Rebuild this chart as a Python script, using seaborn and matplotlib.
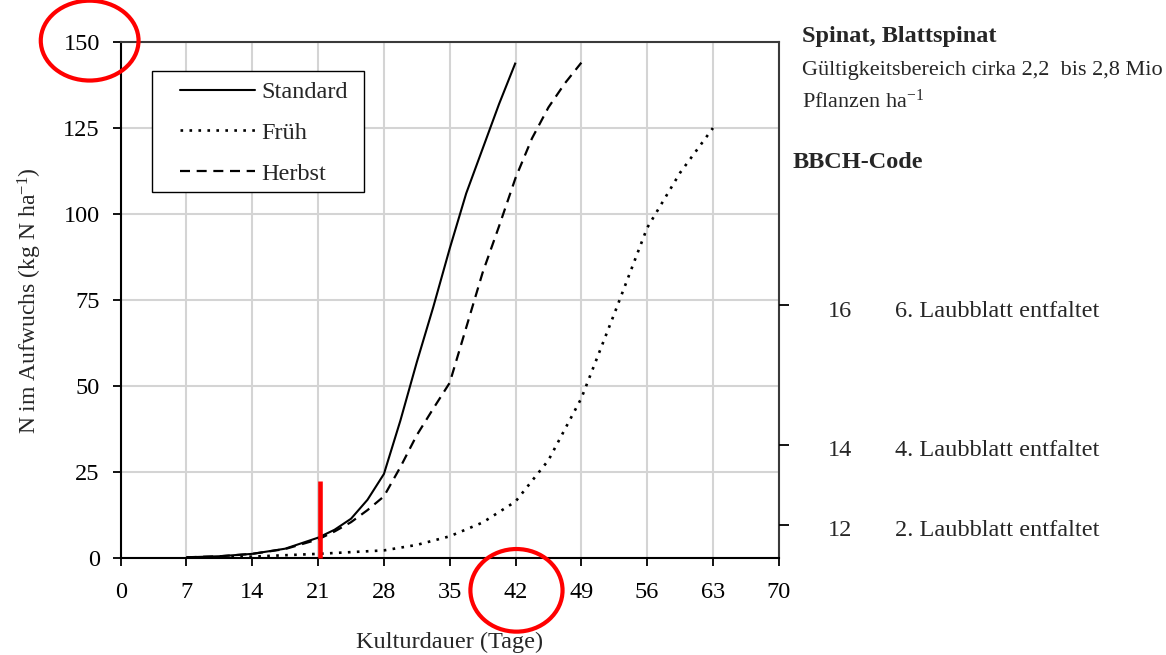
import matplotlib
matplotlib.use("Agg")
import matplotlib.pyplot as plt
import matplotlib.transforms as mtransforms
from matplotlib.lines import Line2D
from matplotlib.patches import Ellipse, Rectangle
import numpy as np
import pandas as pd
import seaborn as sns

# --- N uptake of spinach (kg N/ha) over cultivation time (days) ---
days_standard = [7, 10.5, 14, 17.5, 21, 22.75, 24.5, 26.25, 28, 29.75, 31.5,
                 33.25, 35, 36.75, 38.5, 40.25, 42]
n_standard = [0.3, 0.6, 1.3, 2.8, 6.0, 8.3, 11.5, 17.0, 24.5, 40.0, 57.0,
              73.0, 90.0, 106.0, 119.0, 132.0, 144.0]

days_frueh = [7, 10.5, 14, 17.5, 21, 24.5, 28, 31.5, 35, 38.5, 42, 45.5,
              49, 52.5, 56, 59.5, 63]
n_frueh = [0.2, 0.3, 0.5, 0.9, 1.3, 1.8, 2.3, 3.9, 6.4, 10.4, 16.5, 28.5,
           46.5, 71.0, 96.0, 112.0, 125.0]

days_herbst = [7, 10.5, 14, 17.5, 21, 22.75, 24.5, 26.25, 28, 29.75, 31.5,
               33.25, 35, 36.75, 38.5, 40.25, 42, 43.75, 45.5, 47.25, 49]
n_herbst = [0.3, 0.6, 1.3, 2.7, 5.5, 7.8, 10.5, 14.0, 18.0, 26.5, 35.8,
            43.5, 51.0, 67.0, 83.0, 96.5, 110.5, 122.0, 131.0, 138.0, 144.0]

series_names = ["Standard", "Früh", "Herbst"]

x_ticks = [0, 7, 14, 21, 28, 35, 42, 49, 56, 63, 70]
y_ticks = [0, 25, 50, 75, 100, 125, 150]

# BBCH growth stages marked on the right-hand axis
bbch_level = [73.5, 33.0, 9.7]
bbch_codes = ["16", "14", "12"]
bbch_text = ["6. Laubblatt entfaltet", "4. Laubblatt entfaltet",
             "2. Laubblatt entfaltet"]

# highlighted sowing marker
marker_day = 21.25
marker_top = 22.5

sns.set_theme(style="ticks")
plt.rcParams["font.family"] = ["Liberation Serif", "DejaVu Serif"]
plt.rcParams["mathtext.default"] = "regular"

FS = 17.5

df = pd.concat([
    pd.DataFrame({"Tag": days_standard, "N": n_standard, "Variante": "Standard"}),
    pd.DataFrame({"Tag": days_frueh, "N": n_frueh, "Variante": "Früh"}),
    pd.DataFrame({"Tag": days_herbst, "N": n_herbst, "Variante": "Herbst"}),
], ignore_index=True)

styles = {
    "Standard": dict(lw=1.5, dashes=None),
    "Früh": dict(lw=1.9, dashes=(1, 2.4)),
    "Herbst": dict(lw=1.6, dashes=(4.5, 3)),
}

fig = plt.figure(figsize=(11.66, 6.55), dpi=100)
ax = fig.add_axes([0.1035, 0.1476, 0.5644, 0.7883])

for name in series_names:
    sub = df[df["Variante"] == name]
    st = styles[name]
    line_kw = dict(color="black", linewidth=st["lw"], solid_capstyle="butt",
                   dash_capstyle="butt", solid_joinstyle="round")
    if st["dashes"] is not None:
        line_kw["dashes"] = st["dashes"]
    sns.lineplot(data=sub, x="Tag", y="N", ax=ax, estimator=None, sort=False,
                 legend=False, **line_kw)

ax.set_xlim(0, 70)
ax.set_ylim(0, 150)
ax.set_xticks(x_ticks)
ax.set_yticks(y_ticks)
ax.grid(True, color="#d4d4d4", linewidth=1.5)
ax.set_axisbelow(True)

for side in ["left", "bottom"]:
    ax.spines[side].set_color("black")
    ax.spines[side].set_linewidth(1.5)
for side in ["top", "right"]:
    ax.spines[side].set_visible(True)
    ax.spines[side].set_color("#3a3a3a")
    ax.spines[side].set_linewidth(1.5)

ax.tick_params(axis="both", direction="out", length=6, width=1.3,
               colors="black", labelsize=FS)
ax.tick_params(axis="x", pad=11)
ax.tick_params(axis="y", pad=9)

ax.set_xlabel("Kulturdauer (Tage)", fontsize=FS, va="center")
ax.set_ylabel("N im Aufwuchs (kg N ha$^{-1}$)", fontsize=FS - 0.5, va="center")
ax.xaxis.set_label_coords(0.5, -0.163)
ax.yaxis.set_label_coords(-0.138, 0.5)

# right axis with BBCH stage ticks
ax2 = ax.twinx()
ax2.set_ylim(ax.get_ylim())
ax2.set_yticks(bbch_level)
ax2.set_yticklabels([])
ax2.tick_params(axis="y", direction="out", length=7.5, width=1.3, colors="black")
ax2.grid(False)
for s in ax2.spines.values():
    s.set_visible(False)

trans = mtransforms.blended_transform_factory(ax.transAxes, ax.transData)
trans = mtransforms.offset_copy(trans, fig=fig, x=0, y=-6, units="dots")
for lvl, code, txt in zip(bbch_level, bbch_codes, bbch_text):
    ax.text(1.0932, lvl, code, transform=trans, ha="center", va="center",
            fontsize=FS, clip_on=False)
    ax.text(1.1767, lvl, txt, transform=trans, ha="left", va="center",
            fontsize=FS, clip_on=False)

# legend: entries without frame, boxed by a separate rectangle
handles = [
    Line2D([], [], color="black", lw=styles["Standard"]["lw"]),
    Line2D([], [], color="black", lw=styles["Früh"]["lw"],
           dashes=styles["Früh"]["dashes"], dash_capstyle="butt"),
    Line2D([], [], color="black", lw=styles["Herbst"]["lw"],
           dashes=styles["Herbst"]["dashes"], dash_capstyle="butt"),
]
leg = ax.legend(handles, series_names, loc="upper left",
                bbox_to_anchor=(0.0901, 0.924), fontsize=FS, frameon=False,
                handlelength=3.1, handletextpad=0.25, labelspacing=0.77,
                borderpad=0, borderaxespad=0)
ax.add_patch(Rectangle((0.0471, 0.7089), 0.3231, 0.2355,
                       transform=ax.transAxes, fill=True, facecolor="white",
                       edgecolor="black", linewidth=1.0, zorder=4))
leg.set_zorder(5)

# header text block
fig.text(0.6878, 0.9359, "Spinat, Blattspinat", fontsize=FS, weight="bold",
         va="baseline", ha="left")
fig.text(0.6878, 0.8855, "Gültigkeitsbereich cirka 2,2  bis 2,8 Mio",
         fontsize=16, va="baseline", ha="left")
fig.text(0.6878, 0.8351, "Pflanzen ha$^{-1}$", fontsize=16,
         va="baseline", ha="left")
fig.text(0.6801, 0.7435, "BBCH-Code", fontsize=FS, weight="bold",
         va="baseline", ha="left")

# red highlights
ax.vlines(marker_day, 0, marker_top, color="#ff0000", linewidth=3.3,
          zorder=10, clip_on=False)
ax.add_patch(Ellipse((-3.3, 150.4), width=10.4, height=23.2, fill=False,
                     edgecolor="#ff0000", linewidth=3, clip_on=False, zorder=10))
ax.add_patch(Ellipse((42.1, -9.3), width=9.8, height=24.0, fill=False,
                     edgecolor="#ff0000", linewidth=3, clip_on=False, zorder=10))

fig.savefig("out.png", dpi=100, facecolor="white")
